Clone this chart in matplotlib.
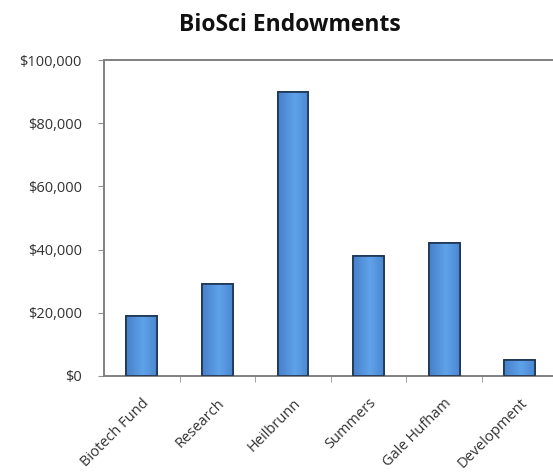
import matplotlib
matplotlib.use('Agg')
import matplotlib.pyplot as plt
import numpy as np
from matplotlib.ticker import FuncFormatter, FixedLocator
from matplotlib.colors import LinearSegmentedColormap

# endowment totals by fund
funds = ['Biotech Fund', 'Research', 'Heilbrunn', 'Summers', 'Gale Hufham', 'Development']
amounts = [19000, 29000, 90000, 38000, 42000, 5000]

plt.rcParams['font.family'] = ['Open Sans', 'DejaVu Sans']

fig = plt.figure(figsize=(5.53, 4.74), dpi=100)
fig.patch.set_facecolor('white')
ax = fig.add_axes([104 / 553, 98 / 474, 453.6 / 553, 316 / 474])

x = np.arange(len(funds))
bars = ax.bar(x, amounts, width=0.41, color='#4f8ad8', edgecolor='#1d3553', linewidth=1.2, zorder=2)

# soft left-to-right shading on each bar
grad = np.linspace(0, 1, 64)
grad = 1 - np.abs(grad - 0.55) * 1.2
grad = grad.reshape(1, -1)
cmap = LinearSegmentedColormap.from_list('bar', ['#3a6fb8', '#5fa2ea'])
for b in bars:
    bx, by = b.get_x(), b.get_y()
    bw, bh = b.get_width(), b.get_height()
    im = ax.imshow(grad, cmap=cmap, aspect='auto', extent=[bx, bx + bw, by, by + bh],
                   zorder=2.5, vmin=0, vmax=1)
    im.set_clip_path(b)
    ax.bar(bx + bw / 2, bh, width=bw, fill=False, edgecolor='#1d3553', linewidth=1.2, zorder=3)

ax.set_xlim(-0.5, len(funds) - 0.5)
ax.set_ylim(0, 100000)
ax.set_yticks(np.arange(0, 100001, 20000))
ax.yaxis.set_major_formatter(FuncFormatter(lambda v, p: '${:,.0f}'.format(v)))

ax.set_xticks(x)
ax.set_xticklabels(funds, rotation=45, ha='right', rotation_mode='anchor', fontsize=10.5, color='#333333')
ax.xaxis.set_minor_locator(FixedLocator(np.arange(0.5, len(funds) - 0.5, 1)))
ax.tick_params(axis='x', which='major', length=0, pad=14)
ax.tick_params(axis='x', which='minor', length=4, color='#909090', direction='out')
ax.tick_params(axis='y', length=4, color='#909090', labelsize=10.5, labelcolor='#333333', pad=12)

for s in ['left', 'top', 'bottom']:
    ax.spines[s].set_color('#808080')
    ax.spines[s].set_linewidth(1.4)
ax.spines['right'].set_visible(False)

fig.text(290 / 553, 1 - 25 / 474, 'BioSci Endowments', ha='center', va='center',
         fontsize=16.5, fontweight='bold', color='#111111')

fig.savefig('out.png', dpi=100, facecolor='white')
